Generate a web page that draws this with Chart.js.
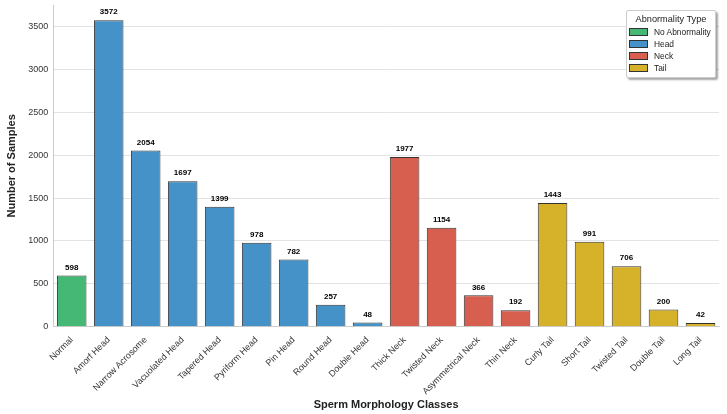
<!DOCTYPE html>
<html><head><meta charset="utf-8">
<script src="https://cdn.jsdelivr.net/npm/chart.js@4"></script>
<style>
html,body{margin:0;padding:0;background:#fff;}
#wrap{position:relative;width:727px;height:414px;}
#legend{position:absolute;left:626px;top:10px;width:90px;height:68px;box-sizing:border-box;background:#fff;border:1px solid #ccc;border-radius:2px;box-shadow:2px 2px 2px rgba(0,0,0,0.35);font-family:"Liberation Sans",Arial,sans-serif;color:#222;padding:2px 0 0 0;white-space:nowrap;}
#legend .t{font-size:9.2px;text-align:center;height:12px;line-height:12px;margin-bottom:1px;}
#legend .r{font-size:8.4px;height:12px;line-height:12px;display:flex;align-items:center;padding-left:2px;}
#legend .s{width:17px;height:6px;border:1px solid #333;margin-right:6px;flex:none;}
</style></head>
<body><div id="wrap"><canvas id="c" width="727" height="414"></canvas>
<div id="legend"></div></div>
<script>
const categories = ["Normal","Amorf Head","Narrow Acrosome","Vacuolated Head","Tapered Head","Pyriform Head","Pin Head","Round Head","Double Head","Thick Neck","Twisted Neck","Asymmetrical Neck","Thin Neck","Curly Tail","Short Tail","Twisted Tail","Double Tail","Long Tail"];
const counts = [598,3572,2054,1697,1399,978,782,257,48,1977,1154,366,192,1443,991,706,200,42];
const groups = ["No Abnormality","Head","Head","Head","Head","Head","Head","Head","Head","Neck","Neck","Neck","Neck","Tail","Tail","Tail","Tail","Tail"];
const groupNames = ["No Abnormality","Head","Neck","Tail"];
const groupColors = ["#44b874","#4592c8","#d65f50","#d6b22b"];
const yTicks = [0,500,1000,1500,2000,2500,3000,3500];

const colorOf = g => groupColors[groupNames.indexOf(g)];
const font = '"Liberation Sans", Arial, sans-serif';

const valueLabels = {
  id:'valueLabels',
  afterDatasetsDraw(chart){
    const ctx = chart.ctx;
    const meta = chart.getDatasetMeta(0);
    ctx.save();
    ctx.font = 'bold 8px ' + font;
    ctx.fillStyle = '#000';
    ctx.textAlign = 'center';
    ctx.textBaseline = 'bottom';
    meta.data.forEach((el,i)=>{
      ctx.fillText(String(counts[i]), el.x, el.y - 4);
    });
    ctx.restore();
  }
};

new Chart(document.getElementById('c'), {
  type:'bar',
  data:{labels:categories, datasets:[{
    data:counts,
    backgroundColor:groups.map(colorOf),
    borderColor:'#333',
    borderWidth:1,
    categoryPercentage:1.0,
    barPercentage:0.8
  }]},
  options:{
    responsive:false, animation:false,
    layout:{padding:{left:5,right:8,top:5,bottom:2}},
    plugins:{legend:{display:false},tooltip:{enabled:false}},
    scales:{
      x:{
        grid:{display:false},
        border:{color:'#cccccc',width:1},
        ticks:{color:'#333',font:{family:font,size:9},maxRotation:45,minRotation:45,padding:0},
        title:{display:true,text:'Sperm Morphology Classes',color:'#222',font:{family:font,size:11,weight:'bold'},padding:{top:2,bottom:0}}
      },
      y:{
        min:0,max:3750,
        afterBuildTicks(s){ s.ticks = yTicks.map(v=>({value:v})); },
        afterFit(s){ s.paddingTop = 0; },
        grid:{color:'#e3e3e3',drawTicks:false},
        border:{color:'#cccccc',width:1},
        ticks:{color:'#333',font:{family:font,size:9},padding:5,callback:v=>String(v)},
        title:{display:true,text:'Number of Samples',color:'#222',font:{family:font,size:11,weight:'bold'},padding:{top:0,bottom:5}}
      }
    }
  },
  plugins:[valueLabels]
});

const lg = document.getElementById('legend');
let h = '<div class="t">Abnormality Type</div>';
groupNames.forEach((g,i)=>{ h += '<div class="r"><span class="s" style="background:'+groupColors[i]+'"></span>'+g+'</div>'; });
lg.innerHTML = h;
</script></body></html>
